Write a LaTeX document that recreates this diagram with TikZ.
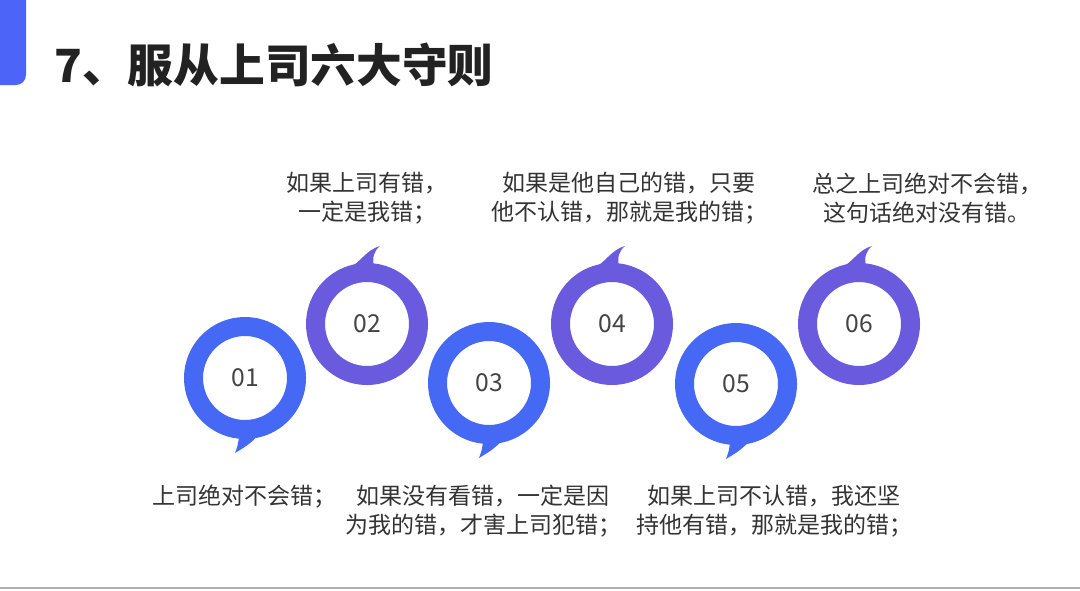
\documentclass[tikz,border=0pt]{standalone}
\usepackage{fontspec}
\setmainfont{Noto Sans CJK SC}
\usetikzlibrary{positioning,calc}
\definecolor{BarBlue}{RGB}{76,100,247}
\definecolor{RingBlue}{RGB}{69,104,245}
\definecolor{RingPurple}{RGB}{106,90,222}
\definecolor{TextGray}{RGB}{51,51,51}
\definecolor{NumGray}{RGB}{68,68,68}
\definecolor{TitleGray}{RGB}{34,34,34}
\definecolor{RuleGray}{RGB}{176,176,176}
\tikzset{
  ring/.style={
    circle,
    draw,
    line width=14.25pt,
    minimum size=77.25pt,
    inner sep=0pt,
    font=\fontsize{18.5}{20}\selectfont,
    text=NumGray
  },
  bluering/.style={ring,draw=RingBlue},
  purplering/.style={ring,draw=RingPurple},
  rulebox/.style={
    align=center,
    inner sep=0pt,
    text=TextGray,
    font=\fontsize{17.25}{21.75}\selectfont
  },
  toptail/.style={fill=RingPurple},
  bottomtail/.style={fill=RingBlue}
}

\begin{document}
\begin{tikzpicture}[x=0.75pt,y=-0.75pt]
  \useasboundingbox (0,0) rectangle (1080,590);
  \fill[white] (0,0) rectangle (1080,590);

  % header
  \fill[BarBlue,rounded corners=7.5pt] (-20,-20) rectangle (26,85);
  \node[anchor=west,inner sep=0pt,text=TitleGray,font=\fontsize{34.3}{37}\bfseries] (title) at (54,65) {7、服从上司六大守则};

  % rings
  \node[bluering]   (c1) at (245,378) {01};
  \node[purplering] (c2) at (367,324) {02};
  \node[bluering]   (c3) at (489,383) {03};
  \node[purplering] (c4) at (612,324) {04};
  \node[bluering]   (c5) at (736,384) {05};
  \node[purplering] (c6) at (859,324) {06};

  % speech tails
  \fill[bottomtail,shift={(c1)}] (-6,56) .. controls (-6,64) and (-8,70) .. (-10,75) .. controls (-2,70) and (6,66) .. (14,56) -- cycle;
  \fill[bottomtail,shift={(c3)}] (-6,56) .. controls (-6,64) and (-8,70) .. (-10,75) .. controls (-2,70) and (6,66) .. (14,56) -- cycle;
  \fill[bottomtail,shift={(c5)}] (-6,56) .. controls (-6,64) and (-8,70) .. (-10,75) .. controls (-2,70) and (6,66) .. (14,56) -- cycle;
  \fill[toptail,shift={(c2)}] (-18,-56) .. controls (-6,-62) and (-1,-74) .. (13,-78) .. controls (7,-73) and (5,-67) .. (7,-58) -- cycle;
  \fill[toptail,shift={(c4)}] (-18,-56) .. controls (-6,-62) and (-1,-74) .. (13,-78) .. controls (7,-73) and (5,-67) .. (7,-58) -- cycle;
  \fill[toptail,shift={(c6)}] (-18,-56) .. controls (-6,-62) and (-1,-74) .. (13,-78) .. controls (7,-73) and (5,-67) .. (7,-58) -- cycle;

  % rules
  \node[rulebox] (r2) at (367,198) {如果上司有错，\\一定是我错；};
  \node[rulebox] (r4) at (629,198) {如果是他自己的错，只要\\他不认错，那就是我的错；};
  \node[rulebox] (r6) at (927,198) {总之上司绝对不会错，\\这句话绝对没有错。};
  \node[rulebox] (r1) at (244,497) {上司绝对不会错；};
  \node[rulebox] (r3) at (483,511) {如果没有看错，一定是因\\为我的错，才害上司犯错；};
  \node[rulebox] (r5) at (774,511) {如果上司不认错，我还坚\\持他有错，那就是我的错；};

  % footer line
  \draw[RuleGray,line width=1.5pt] (0,588) -- (1080,588);
\end{tikzpicture}
\end{document}
